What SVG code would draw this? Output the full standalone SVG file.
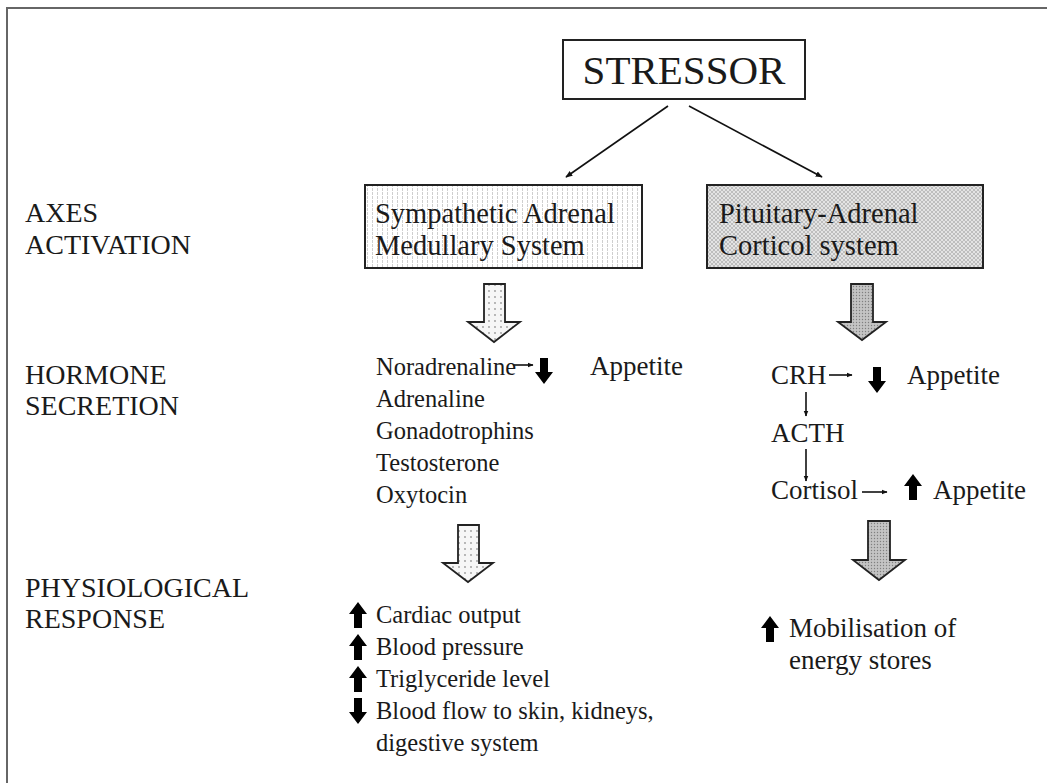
<svg xmlns="http://www.w3.org/2000/svg" width="1047" height="783" viewBox="0 0 1047 783">
<defs>
<style>
text{font-family:"Liberation Serif","Times New Roman",serif;fill:#1a1a1a}
.lab{font-size:28px}
.box{font-size:28.5px}
.t{font-size:24.5px}
.r{font-size:27px}
.thin{stroke:#111;stroke-width:1.6;fill:none}
.blk{fill:#000}
</style>
<pattern id="vlines" width="5" height="4" patternUnits="userSpaceOnUse">
<rect width="5" height="4" fill="#fff"/>
<rect x="2" y="0" width="1" height="3" fill="#cfcfcf"/>
</pattern>
<pattern id="xhatch" width="4" height="4" patternUnits="userSpaceOnUse">
<rect width="4" height="4" fill="#e4e4e4"/>
<path d="M0,4 L4,0 M0,0 L4,4" stroke="#adadad" stroke-width="0.7"/>
</pattern>
<pattern id="dotsw" width="6" height="6" patternUnits="userSpaceOnUse">
<rect width="6" height="6" fill="#f6f6f6"/>
<circle cx="3" cy="3" r="0.9" fill="#9a9a9a"/>
</pattern>
<pattern id="dotsg" width="3" height="3" patternUnits="userSpaceOnUse">
<rect width="3" height="3" fill="#c4c4c4"/>
<circle cx="1.5" cy="1.5" r="0.7" fill="#808080"/>
</pattern>
<marker id="ah" viewBox="0 0 10 10" refX="9" refY="5" markerWidth="7" markerHeight="7" orient="auto" markerUnits="userSpaceOnUse">
<path d="M0,1 L10,5 L0,9 Z" fill="#111"/>
</marker>
<marker id="ahs" viewBox="0 0 10 10" refX="9" refY="5" markerWidth="6" markerHeight="6" orient="auto" markerUnits="userSpaceOnUse">
<path d="M0,1 L10,5 L0,9 Z" fill="#111"/>
</marker>
<path id="dn" d="M-4,0 H4 V14 H9 L0,26 L-9,14 H-4 Z"/>
<path id="up" d="M-4,26 H4 V12 H9 L0,0 L-9,12 H-4 Z"/>
</defs>
<rect width="1047" height="783" fill="#fff"/>
<path d="M7,783 V8 H1047" fill="none" stroke="#666" stroke-width="2"/>

<g id="labels">
<text class="lab" x="25" y="222">AXES</text>
<text class="lab" x="25" y="254">ACTIVATION</text>
<text class="lab" x="25" y="384">HORMONE</text>
<text class="lab" x="25" y="415">SECRETION</text>
<text class="lab" x="25" y="597">PHYSIOLOGICAL</text>
<text class="lab" x="25" y="628">RESPONSE</text>
</g>

<g id="stressor">
<rect x="563" y="40" width="242" height="59" fill="#fff" stroke="#222" stroke-width="2"/>
<text x="684" y="84" font-size="41" text-anchor="middle">STRESSOR</text>
</g>

<g id="sam">
<rect x="365" y="185" width="277" height="83" fill="url(#vlines)" stroke="#222" stroke-width="2"/>
<text class="box" x="375" y="223">Sympathetic Adrenal</text>
<text class="box" x="375" y="255">Medullary System</text>
</g>

<g id="pac">
<rect x="707" y="185" width="276" height="83" fill="url(#xhatch)" stroke="#222" stroke-width="2"/>
<text class="box" x="719" y="223">Pituitary-Adrenal</text>
<text class="box" x="719" y="255">Corticol system</text>
</g>

<g id="connectors">
<line class="thin" x1="668" y1="106" x2="566" y2="177" marker-end="url(#ah)"/>
<line class="thin" x1="689" y1="106" x2="822" y2="177" marker-end="url(#ah)"/>
<path d="M484,284 H505 V322 H520 L494,342 L468,322 H484 Z" fill="url(#dotsw)" stroke="#222" stroke-width="1.8"/>
<path d="M458,525 H479 V563 H493 L468,582 L443,563 H458 Z" fill="url(#dotsw)" stroke="#222" stroke-width="1.8"/>
<path d="M851,284 H873 V322 H886 L862,340 L838,322 H851 Z" fill="url(#dotsg)" stroke="#222" stroke-width="1.8"/>
<path d="M868,521 H890 V560 H905 L879,580 L853,560 H868 Z" fill="url(#dotsg)" stroke="#222" stroke-width="1.8"/>
<line class="thin" x1="513" y1="365" x2="533" y2="365" stroke-width="1.4" marker-end="url(#ahs)"/>
<line class="thin" x1="829" y1="375" x2="852" y2="375" stroke-width="1.4" marker-end="url(#ahs)"/>
<line class="thin" x1="806" y1="392" x2="806" y2="416" stroke-width="1.2" marker-end="url(#ahs)"/>
<line class="thin" x1="806" y1="449" x2="806" y2="481" stroke-width="1.2" marker-end="url(#ahs)"/>
<line class="thin" x1="862" y1="492" x2="887" y2="492" stroke-width="1.4" marker-end="url(#ahs)"/>
</g>

<g id="hormones-sam">
<text class="t" x="376" y="375">Noradrenaline</text>
<use href="#dn" x="544" y="358" class="blk"/>
<text class="r" x="590" y="375">Appetite</text>
<text class="t" x="376" y="407">Adrenaline</text>
<text class="t" x="376" y="439">Gonadotrophins</text>
<text class="t" x="376" y="471">Testosterone</text>
<text class="t" x="376" y="503">Oxytocin</text>
</g>

<g id="hormones-pac">
<text class="r" x="771" y="384">CRH</text>
<use href="#dn" x="877" y="367" class="blk"/>
<text class="r" x="907" y="384">Appetite</text>
<text class="r" x="771" y="442">ACTH</text>
<text class="r" x="771" y="499">Cortisol</text>
<use href="#up" x="913" y="474" class="blk"/>
<text class="r" x="933" y="499">Appetite</text>
</g>

<g id="response-sam">
<use href="#up" x="358" y="602" class="blk"/>
<text class="t" x="376" y="623">Cardiac output</text>
<use href="#up" x="358" y="634" class="blk"/>
<text class="t" x="376" y="655">Blood pressure</text>
<use href="#up" x="358" y="666" class="blk"/>
<text class="t" x="376" y="687">Triglyceride level</text>
<use href="#dn" x="358" y="698" class="blk"/>
<text class="t" x="376" y="719">Blood flow to skin, kidneys,</text>
<text class="t" x="376" y="751">digestive system</text>
</g>

<g id="response-pac">
<use href="#up" x="770" y="616" class="blk"/>
<text class="r" x="789" y="637">Mobilisation of</text>
<text class="r" x="789" y="669">energy stores</text>
</g>
</svg>
